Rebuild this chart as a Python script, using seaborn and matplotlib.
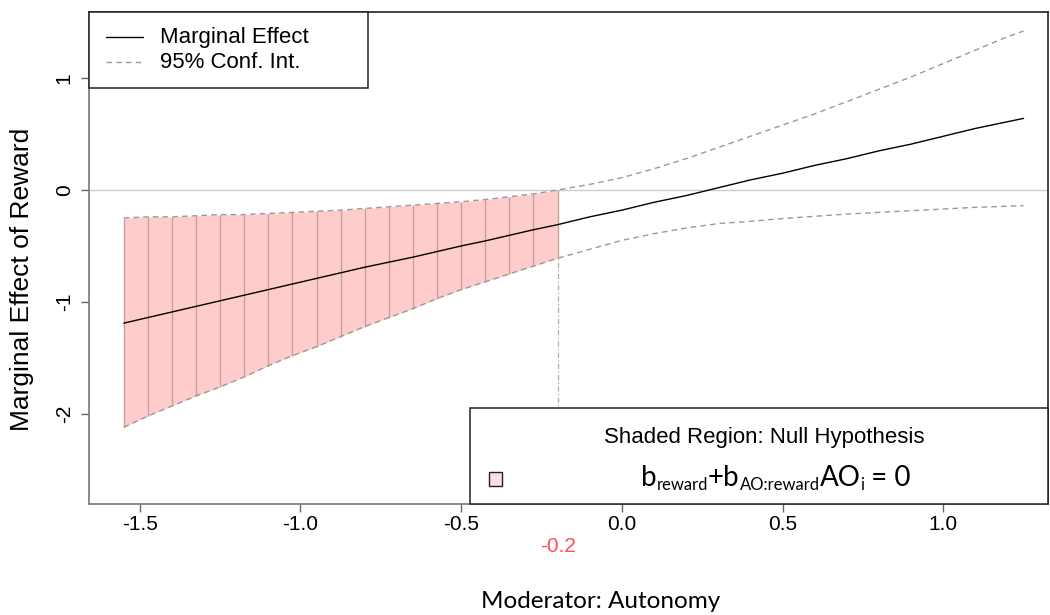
import matplotlib
matplotlib.use('Agg')
import pandas as pd
import matplotlib.pyplot as plt
import matplotlib.transforms as mtrans
from matplotlib.patches import Rectangle
from matplotlib.lines import Line2D
import seaborn as sns

# moderator values where the CI covers zero (shaded), 0.075 apart
mod_shaded = [-1.55, -1.475, -1.40, -1.325, -1.25, -1.175, -1.10, -1.025, -0.95, -0.875,
              -0.80, -0.725, -0.65, -0.575, -0.50, -0.425, -0.35, -0.275, -0.20]
me_shaded = [-1.19, -1.14, -1.09, -1.04, -0.99, -0.94, -0.89, -0.84, -0.79, -0.74,
             -0.69, -0.645, -0.60, -0.55, -0.50, -0.455, -0.405, -0.355, -0.31]
hi_shaded = [-0.25, -0.24, -0.24, -0.23, -0.22, -0.22, -0.21, -0.20, -0.19, -0.18,
             -0.165, -0.15, -0.135, -0.12, -0.105, -0.085, -0.06, -0.035, 0.00]
lo_shaded = [-2.12, -2.02, -1.93, -1.84, -1.76, -1.67, -1.57, -1.48, -1.40, -1.31,
             -1.22, -1.14, -1.06, -0.97, -0.89, -0.82, -0.75, -0.68, -0.61]

# rest of the moderator range
mod_rest = [-0.1, 0.0, 0.1, 0.2, 0.3, 0.4, 0.5, 0.6, 0.7, 0.8, 0.9, 1.0, 1.1, 1.2, 1.25]
me_rest = [-0.24, -0.18, -0.11, -0.05, 0.02, 0.09, 0.15, 0.22, 0.28, 0.35, 0.41, 0.48, 0.55, 0.61, 0.64]
hi_rest = [0.05, 0.11, 0.19, 0.28, 0.38, 0.48, 0.58, 0.68, 0.79, 0.90, 1.01, 1.13, 1.25, 1.37, 1.42]
lo_rest = [-0.53, -0.45, -0.39, -0.34, -0.30, -0.28, -0.255, -0.235, -0.215, -0.20,
           -0.185, -0.17, -0.155, -0.145, -0.14]

cutoff = -0.2
xticks = [-1.5, -1.0, -0.5, 0.0, 0.5, 1.0]
xtick_labels = ['-1.5', '-1.0', '-0.5', '0.0', '0.5', '1.0']
yticks = [-2, -1, 0, 1]
ytick_labels = ['-2', '-1', '0', '1']

# formula in the lower legend: (text, is_subscript)
formula = [('b', False), ('reward', True), ('+b', False), ('AO:reward', True),
           ('AO', False), ('i', True), (' = 0', False)]

shaded = pd.DataFrame({'mod': mod_shaded, 'me': me_shaded, 'hi': hi_shaded, 'lo': lo_shaded})
df = pd.concat([shaded, pd.DataFrame({'mod': mod_rest, 'me': me_rest, 'hi': hi_rest, 'lo': lo_rest})],
               ignore_index=True)

sns.set_theme(style='white')
plt.rcParams['font.family'] = ['Liberation Sans', 'DejaVu Sans']
plt.rcParams['text.color'] = 'black'

W, H = 1050, 615
fig = plt.figure(figsize=(W / 100, H / 100), dpi=100)
ax = fig.add_axes([89 / W, 1 - 504 / H, (1048 - 89) / W, (504 - 12.3) / H])


def fx(px):
    return px / W


def fy(py):
    return 1 - py / H


# shaded null region with vertical strokes
ax.fill_between(shaded['mod'], shaded['lo'], shaded['hi'], color='#ffcccc', lw=0, zorder=1)
ax.vlines(shaded['mod'], shaded['lo'], shaded['hi'], color='#c9a0a0', lw=1, zorder=2)

ax.axhline(0, color='#cccccc', lw=1, zorder=1.5)
ax.vlines(cutoff, -3, shaded['lo'].iloc[-1], color='#aaaaaa', lw=0.9,
          linestyles=(0, (4, 2, 1, 2)), zorder=2)

sns.lineplot(data=df, x='mod', y='hi', color='#999999', lw=1, linestyle=(0, (4, 3)), ax=ax, zorder=3)
sns.lineplot(data=df, x='mod', y='lo', color='#999999', lw=1, linestyle=(0, (4, 3)), ax=ax, zorder=3)
sns.lineplot(data=df, x='mod', y='me', color='black', lw=1, ax=ax, zorder=4)

ax.set_xlim(-1.658, 1.326)
ax.set_ylim(-2.806, 1.588)
ax.set_xticks(xticks)
ax.set_xticklabels(xtick_labels)
ax.set_yticks(yticks)
ax.set_yticklabels(ytick_labels, rotation=90, va='center')
ax.tick_params(axis='both', direction='out', length=6, width=1, color='#666666',
               labelsize=15, labelcolor='black', bottom=True, left=True)
ax.tick_params(axis='x', pad=2)
ax.tick_params(axis='y', pad=5)
ax.set_xlabel('')
ax.set_ylabel('')
for side in ['left', 'bottom']:
    ax.spines[side].set_color('#777777')
    ax.spines[side].set_linewidth(1.2)
for side in ['top', 'right']:
    ax.spines[side].set_color('#222222')
    ax.spines[side].set_linewidth(1.2)

ax.text(cutoff, fy(547), '-0.2', color='#ff4f5a', fontsize=15, ha='center', va='center',
        transform=mtrans.blended_transform_factory(ax.transData, fig.transFigure))

# top-left legend
fig.add_artist(Rectangle((fx(89), fy(88)), fx(368) - fx(89), fy(12.3) - fy(88),
                         transform=fig.transFigure, fc='white', ec='#222222', lw=1.1, zorder=5))
fig.add_artist(Line2D([fx(106), fx(143)], [fy(37), fy(37)], transform=fig.transFigure,
                      color='black', lw=1, zorder=6))
fig.add_artist(Line2D([fx(106), fx(143)], [fy(62), fy(62)], transform=fig.transFigure,
                      color='#999999', lw=1, linestyle=(0, (4, 3)), zorder=6))
fig.text(fx(160), fy(38), 'Marginal Effect', fontsize=16, va='center', ha='left', zorder=6)
fig.text(fx(160), fy(63), '95% Conf. Int.', fontsize=16, va='center', ha='left', zorder=6)

# bottom-right legend
fig.add_artist(Rectangle((fx(470), fy(504)), fx(1048) - fx(470), fy(408.3) - fy(504),
                         transform=fig.transFigure, fc='white', ec='#222222', lw=1.1, zorder=5))
fig.add_artist(Rectangle((fx(489), fy(485.5)), fx(502) - fx(489), fy(472) - fy(485.5),
                         transform=fig.transFigure, fc='#ffdede', ec='#222222', lw=1, zorder=6))
fig.text(fx(764), fy(438), 'Shaded Region: Null Hypothesis', fontsize=16, ha='center', va='center',
         zorder=6)

# formula laid out piece by piece, then centred
renderer = fig.canvas.get_renderer()
pieces = []
cursor = 0.0
for txt, sub in formula:
    t = fig.text(0, fy(486) + (0 if not sub else -4 / H), txt, fontsize=12 if sub else 20,
                 family=['Lato', 'DejaVu Sans'], ha='left', va='baseline', zorder=6)
    w = t.get_window_extent(renderer).width
    pieces.append((t, cursor))
    cursor += w
start = 776 - cursor / 2
for t, off in pieces:
    t.set_x(fx(start + off))

# axis titles
fig.text(fx(22), fy(279), 'Marginal Effect of Reward', fontsize=19, rotation=90,
         ha='center', va='center')
fig.text(fx(601), fy(602), 'Moderator: Autonomy', fontsize=17.5, ha='center', va='center',
         family=['Lato', 'DejaVu Sans'])

fig.savefig('out.png', dpi=100)
